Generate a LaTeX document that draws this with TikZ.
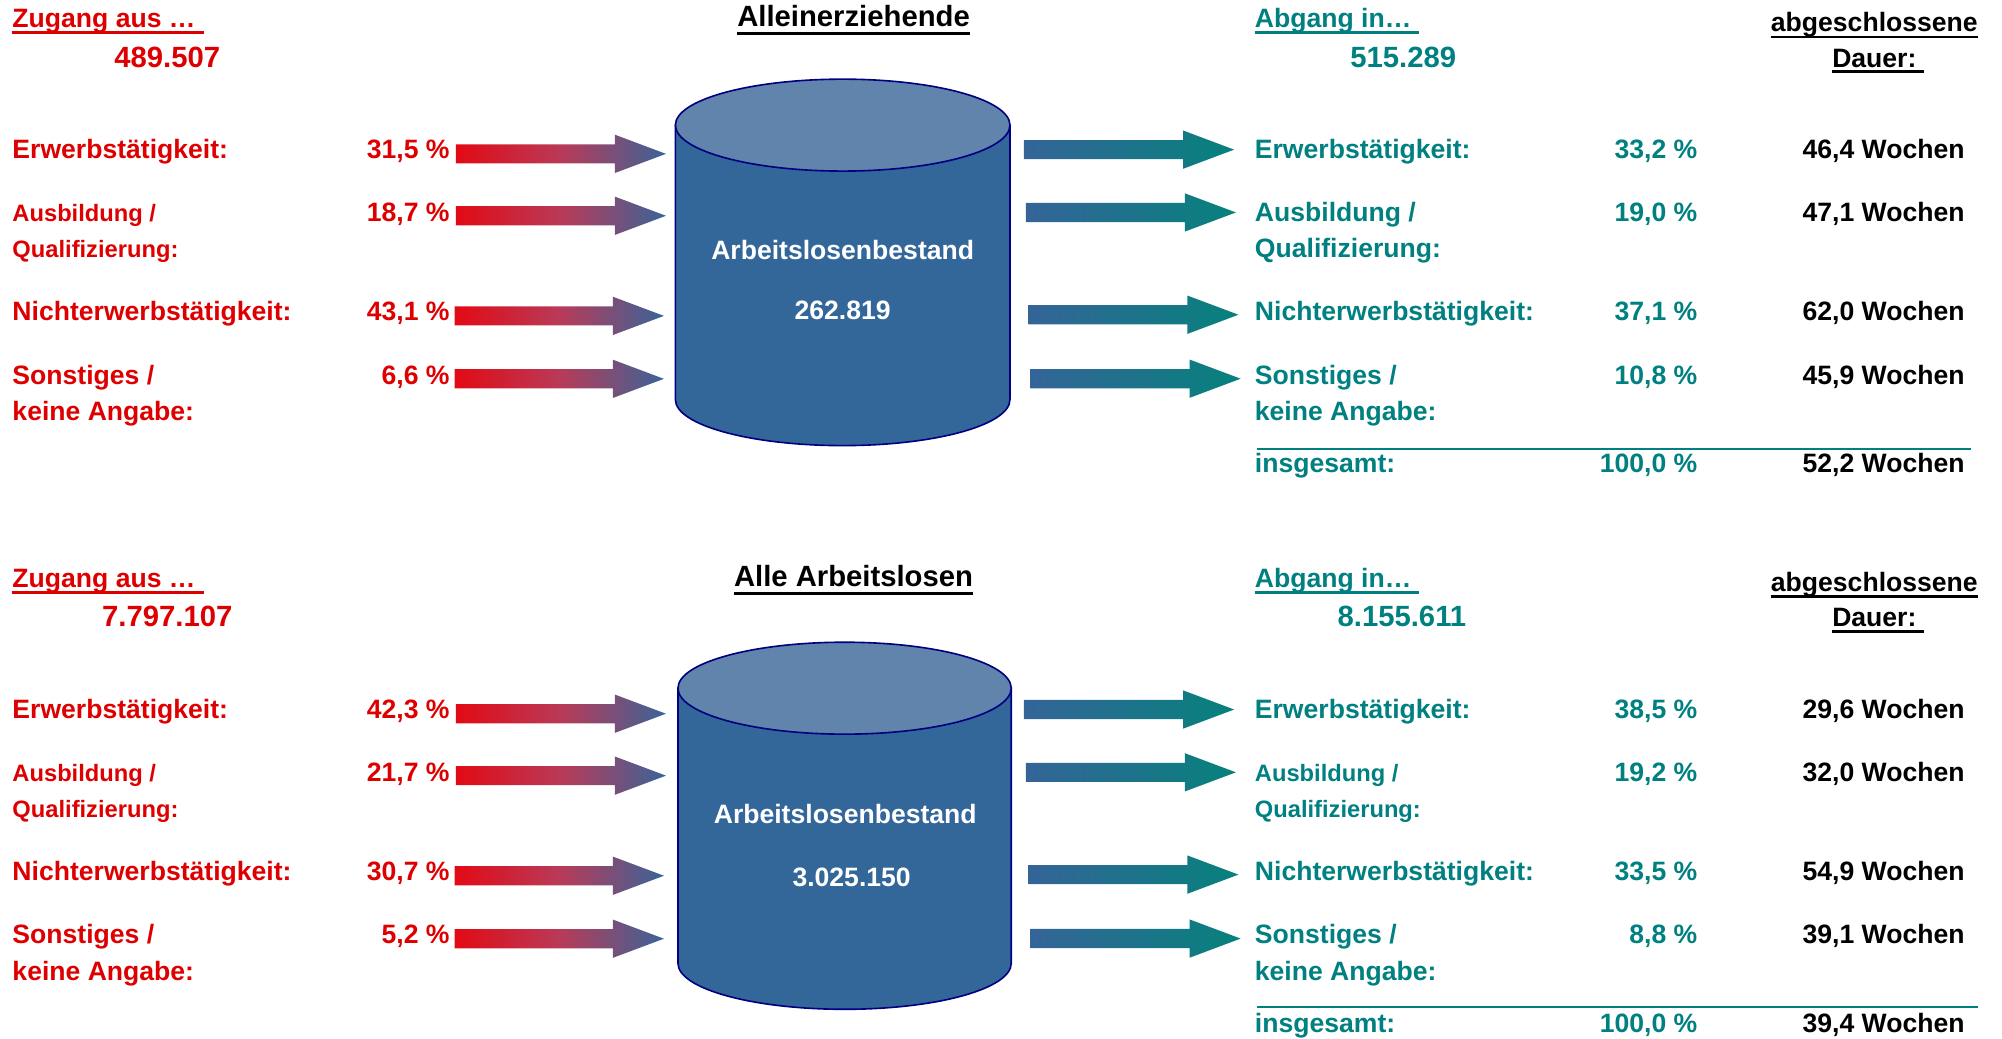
\documentclass[tikz,border=0pt]{standalone}
\usepackage{fontspec}
\setmainfont{Liberation Sans}
\usetikzlibrary{calc}

\definecolor{zured}{RGB}{222,0,0}
\definecolor{abteal}{RGB}{0,128,128}
\definecolor{drumside}{RGB}{51,102,153}
\definecolor{drumtop}{RGB}{96,132,172}
\definecolor{drumedge}{RGB}{0,0,128}
\definecolor{inred}{RGB}{226,10,20}
\definecolor{inmid}{RGB}{185,58,88}
\definecolor{inblue}{RGB}{58,100,152}
\definecolor{outblue}{RGB}{52,100,152}
\definecolor{outteal}{RGB}{6,130,124}

\tikzset{
  txt/.style={inner sep=0pt, font=\fontsize{14.8}{17}\selectfont\bfseries},
  big/.style={inner sep=0pt, font=\fontsize{16.3}{19}\selectfont\bfseries},
  small/.style={inner sep=0pt, font=\fontsize{13.2}{16}\selectfont\bfseries},
  inflow/.style={left color=inred, right color=inblue, middle color=inmid},
  outflow/.style={left color=outblue, right color=outteal},
  uline/.style={line width=1.6pt},
  drum/.style={draw=drumedge, line width=0.9pt},
}

% block arrow: style, start x, tip x, centre y
\newcommand{\flowarrow}[4]{%
  \shade[#1] (#2,#4-7.5) -- (#3-40,#4-7.5) -- (#3-40,#4-15) -- (#3,#4)
    -- (#3-40,#4+15) -- (#3-40,#4+7.5) -- (#2,#4+7.5) -- cycle;}

% stock cylinder: centre x, top centre y, bottom centre y, x radius
\newcommand{\drum}[4]{%
  \filldraw[drum, fill=drumside] (#1-#4,#2) -- (#1-#4,#3)
    arc[start angle=180, end angle=0, x radius=#4, y radius=36] -- (#1+#4,#2) -- cycle;
  \filldraw[drum, fill=drumtop] (#1,#2) ellipse[x radius=#4, y radius=36];}

\begin{document}
\begin{tikzpicture}[x=0.025cm, y=-0.025cm]
  \useasboundingbox (0,0) rectangle (1568,813);

  % cylinders
  \drum{660}{98}{313}{131}
  \drum{661.5}{539}{754.5}{130.5}

  % arrows in and out
  \foreach \xs/\xt/\y in {357/521.6/120.5, 357/521.6/169, 356/520/247.4, 356/520/296.7,
                          357/521.6/559, 357/521.6/607.5, 356/520/685.9, 356/520/735.2}
    {\flowarrow{inflow}{\xs}{\xt}{\y}}
  \foreach \xs/\xt/\y in {802/966.6/117.2, 803.5/968/166.4, 805.6/970/246.5, 807/971.7/296.6,
                          802/966.6/555.7, 803.5/968/604.9, 805.6/970/685, 807/971.7/735.1}
    {\flowarrow{outflow}{\xs}{\xt}{\y}}

  %%% Alleinerziehende
  \node[txt, text=zured, anchor=base west] (zugA) at (9.5,21.5) {Zugang aus …};
  \node[big, text=zured, anchor=base] (zuzahlA) at (131,52.5) {489.507};
  \node[big, anchor=base] (titA) at (668.5,21) {Alleinerziehende};
  \node[txt, text=abteal, anchor=base west] (abgA) at (982.6,21.5) {Abgang in…};
  \node[big, text=abteal, anchor=base] (abzahlA) at (1099,52.5) {515.289};
  \node[txt, anchor=base] (dauerA) at (1468,25) {abgeschlossene};
  \node[txt, anchor=base] (dauerbA) at (1468,52.5) {Dauer:};
  \draw[uline, zured] ($(zugA.base west)+(0,4)$) -- ($(zugA.base east)+(6,4)$);
  \draw[uline] ($(titA.base west)+(0,5)$) -- ($(titA.base east)+(0,5)$);
  \draw[uline, abteal] ($(abgA.base west)+(0,4)$) -- ($(abgA.base east)+(6,4)$);
  \draw[uline] ($(dauerA.base west)+(0,4)$) -- ($(dauerA.base east)+(0,4)$);
  \draw[uline] ($(dauerbA.base west)+(0,3.5)$) -- ($(dauerbA.base east)+(6,3.5)$);

  \node[txt, text=zured, anchor=base west] (lerwA) at (9.5,124.5) {Erwerbstätigkeit:};
  \node[small, text=zured, anchor=base west] (lausA) at (9.5,173.8) {Ausbildung /};
  \node[small, text=zured, anchor=base west] (lqualA) at (9.5,202) {Qualifizierung:};
  \node[txt, text=zured, anchor=base west] (lnichtA) at (9.5,251.4) {Nichterwerbstätigkeit:};
  \node[txt, text=zured, anchor=base west] (lsonstA) at (9.5,300.8) {Sonstiges /};
  \node[txt, text=zured, anchor=base west] (lkeineA) at (9.5,329.7) {keine Angabe:};
  \node[txt, text=zured, anchor=base east] (lp1A) at (352.4,124.5) {31,5 \%};
  \node[txt, text=zured, anchor=base east] (lp2A) at (352.4,173.8) {18,7 \%};
  \node[txt, text=zured, anchor=base east] (lp3A) at (352.4,251.4) {43,1 \%};
  \node[txt, text=zured, anchor=base east] (lp4A) at (352.4,300.8) {6,6 \%};

  \node[txt, text=white, anchor=base] (bestA) at (660,203.6) {Arbeitslosenbestand};
  \node[txt, text=white, anchor=base] (bzahlA) at (660,250) {262.819};

  \node[txt, text=abteal, anchor=base west] (rerwA) at (982.6,124.5) {Erwerbstätigkeit:};
  \node[txt, text=abteal, anchor=base west] (rausA) at (982.6,173.8) {Ausbildung /};
  \node[txt, text=abteal, anchor=base west] (rqualA) at (982.6,202) {Qualifizierung:};
  \node[txt, text=abteal, anchor=base west] (rnichtA) at (982.6,251.4) {Nichterwerbstätigkeit:};
  \node[txt, text=abteal, anchor=base west] (rsonstA) at (982.6,300.8) {Sonstiges /};
  \node[txt, text=abteal, anchor=base west] (rkeineA) at (982.6,329.7) {keine Angabe:};
  \node[txt, text=abteal, anchor=base west] (rsumA) at (982.6,370.2) {insgesamt:};
  \node[txt, text=abteal, anchor=base east] (rp1A) at (1329.7,124.5) {33,2 \%};
  \node[txt, text=abteal, anchor=base east] (rp2A) at (1329.7,173.8) {19,0 \%};
  \node[txt, text=abteal, anchor=base east] (rp3A) at (1329.7,251.4) {37,1 \%};
  \node[txt, text=abteal, anchor=base east] (rp4A) at (1329.7,300.8) {10,8 \%};
  \node[txt, text=abteal, anchor=base east] (rpsA) at (1329.7,370.2) {100,0 \%};
  \node[txt, anchor=base east] (w1A) at (1539,124.5) {46,4 Wochen};
  \node[txt, anchor=base east] (w2A) at (1539,173.8) {47,1 Wochen};
  \node[txt, anchor=base east] (w3A) at (1539,251.4) {62,0 Wochen};
  \node[txt, anchor=base east] (w4A) at (1539,300.8) {45,9 Wochen};
  \node[txt, anchor=base east] (wsA) at (1539,370.2) {52,2 Wochen};
  \draw[abteal, line width=1.2pt] (984.6,351.7) -- (1543.7,351.7);

  %%% Alle Arbeitslosen
  \node[txt, text=zured, anchor=base west] (zugB) at (9.5,460) {Zugang aus …};
  \node[big, text=zured, anchor=base] (zuzahlB) at (131,491) {7.797.107};
  \node[big, anchor=base] (titB) at (668.5,459.5) {Alle Arbeitslosen};
  \node[txt, text=abteal, anchor=base west] (abgB) at (982.6,460) {Abgang in…};
  \node[big, text=abteal, anchor=base] (abzahlB) at (1098,491) {8.155.611};
  \node[txt, anchor=base] (dauerB) at (1468,463.5) {abgeschlossene};
  \node[txt, anchor=base] (dauerbB) at (1468,491) {Dauer:};
  \draw[uline, zured] ($(zugB.base west)+(0,4)$) -- ($(zugB.base east)+(6,4)$);
  \draw[uline] ($(titB.base west)+(0,5)$) -- ($(titB.base east)+(0,5)$);
  \draw[uline, abteal] ($(abgB.base west)+(0,4)$) -- ($(abgB.base east)+(6,4)$);
  \draw[uline] ($(dauerB.base west)+(0,4)$) -- ($(dauerB.base east)+(0,4)$);
  \draw[uline] ($(dauerbB.base west)+(0,3.5)$) -- ($(dauerbB.base east)+(6,3.5)$);

  \node[txt, text=zured, anchor=base west] (lerwB) at (9.5,563) {Erwerbstätigkeit:};
  \node[small, text=zured, anchor=base west] (lausB) at (9.5,612.3) {Ausbildung /};
  \node[small, text=zured, anchor=base west] (lqualB) at (9.5,640.5) {Qualifizierung:};
  \node[txt, text=zured, anchor=base west] (lnichtB) at (9.5,689.9) {Nichterwerbstätigkeit:};
  \node[txt, text=zured, anchor=base west] (lsonstB) at (9.5,739.3) {Sonstiges /};
  \node[txt, text=zured, anchor=base west] (lkeineB) at (9.5,768.2) {keine Angabe:};
  \node[txt, text=zured, anchor=base east] (lp1B) at (352.4,563) {42,3 \%};
  \node[txt, text=zured, anchor=base east] (lp2B) at (352.4,612.3) {21,7 \%};
  \node[txt, text=zured, anchor=base east] (lp3B) at (352.4,689.9) {30,7 \%};
  \node[txt, text=zured, anchor=base east] (lp4B) at (352.4,739.3) {5,2 \%};

  \node[txt, text=white, anchor=base] (bestB) at (662,644.6) {Arbeitslosenbestand};
  \node[txt, text=white, anchor=base] (bzahlB) at (667,694.4) {3.025.150};

  \node[txt, text=abteal, anchor=base west] (rerwB) at (982.6,563) {Erwerbstätigkeit:};
  \node[small, text=abteal, anchor=base west] (rausB) at (982.6,612.3) {Ausbildung /};
  \node[small, text=abteal, anchor=base west] (rqualB) at (982.6,640.5) {Qualifizierung:};
  \node[txt, text=abteal, anchor=base west] (rnichtB) at (982.6,689.9) {Nichterwerbstätigkeit:};
  \node[txt, text=abteal, anchor=base west] (rsonstB) at (982.6,739.3) {Sonstiges /};
  \node[txt, text=abteal, anchor=base west] (rkeineB) at (982.6,768.2) {keine Angabe:};
  \node[txt, text=abteal, anchor=base west] (rsumB) at (982.6,808.5) {insgesamt:};
  \node[txt, text=abteal, anchor=base east] (rp1B) at (1329.7,563) {38,5 \%};
  \node[txt, text=abteal, anchor=base east] (rp2B) at (1329.7,612.3) {19,2 \%};
  \node[txt, text=abteal, anchor=base east] (rp3B) at (1329.7,689.9) {33,5 \%};
  \node[txt, text=abteal, anchor=base east] (rp4B) at (1329.7,739.3) {8,8 \%};
  \node[txt, text=abteal, anchor=base east] (rpsB) at (1329.7,808.5) {100,0 \%};
  \node[txt, anchor=base east] (w1B) at (1539,563) {29,6 Wochen};
  \node[txt, anchor=base east] (w2B) at (1539,612.3) {32,0 Wochen};
  \node[txt, anchor=base east] (w3B) at (1539,689.9) {54,9 Wochen};
  \node[txt, anchor=base east] (w4B) at (1539,739.3) {39,1 Wochen};
  \node[txt, anchor=base east] (wsB) at (1539,808.5) {39,4 Wochen};
  \draw[abteal, line width=1.2pt] (984.6,788.5) -- (1549,788.5);
\end{tikzpicture}
\end{document}
